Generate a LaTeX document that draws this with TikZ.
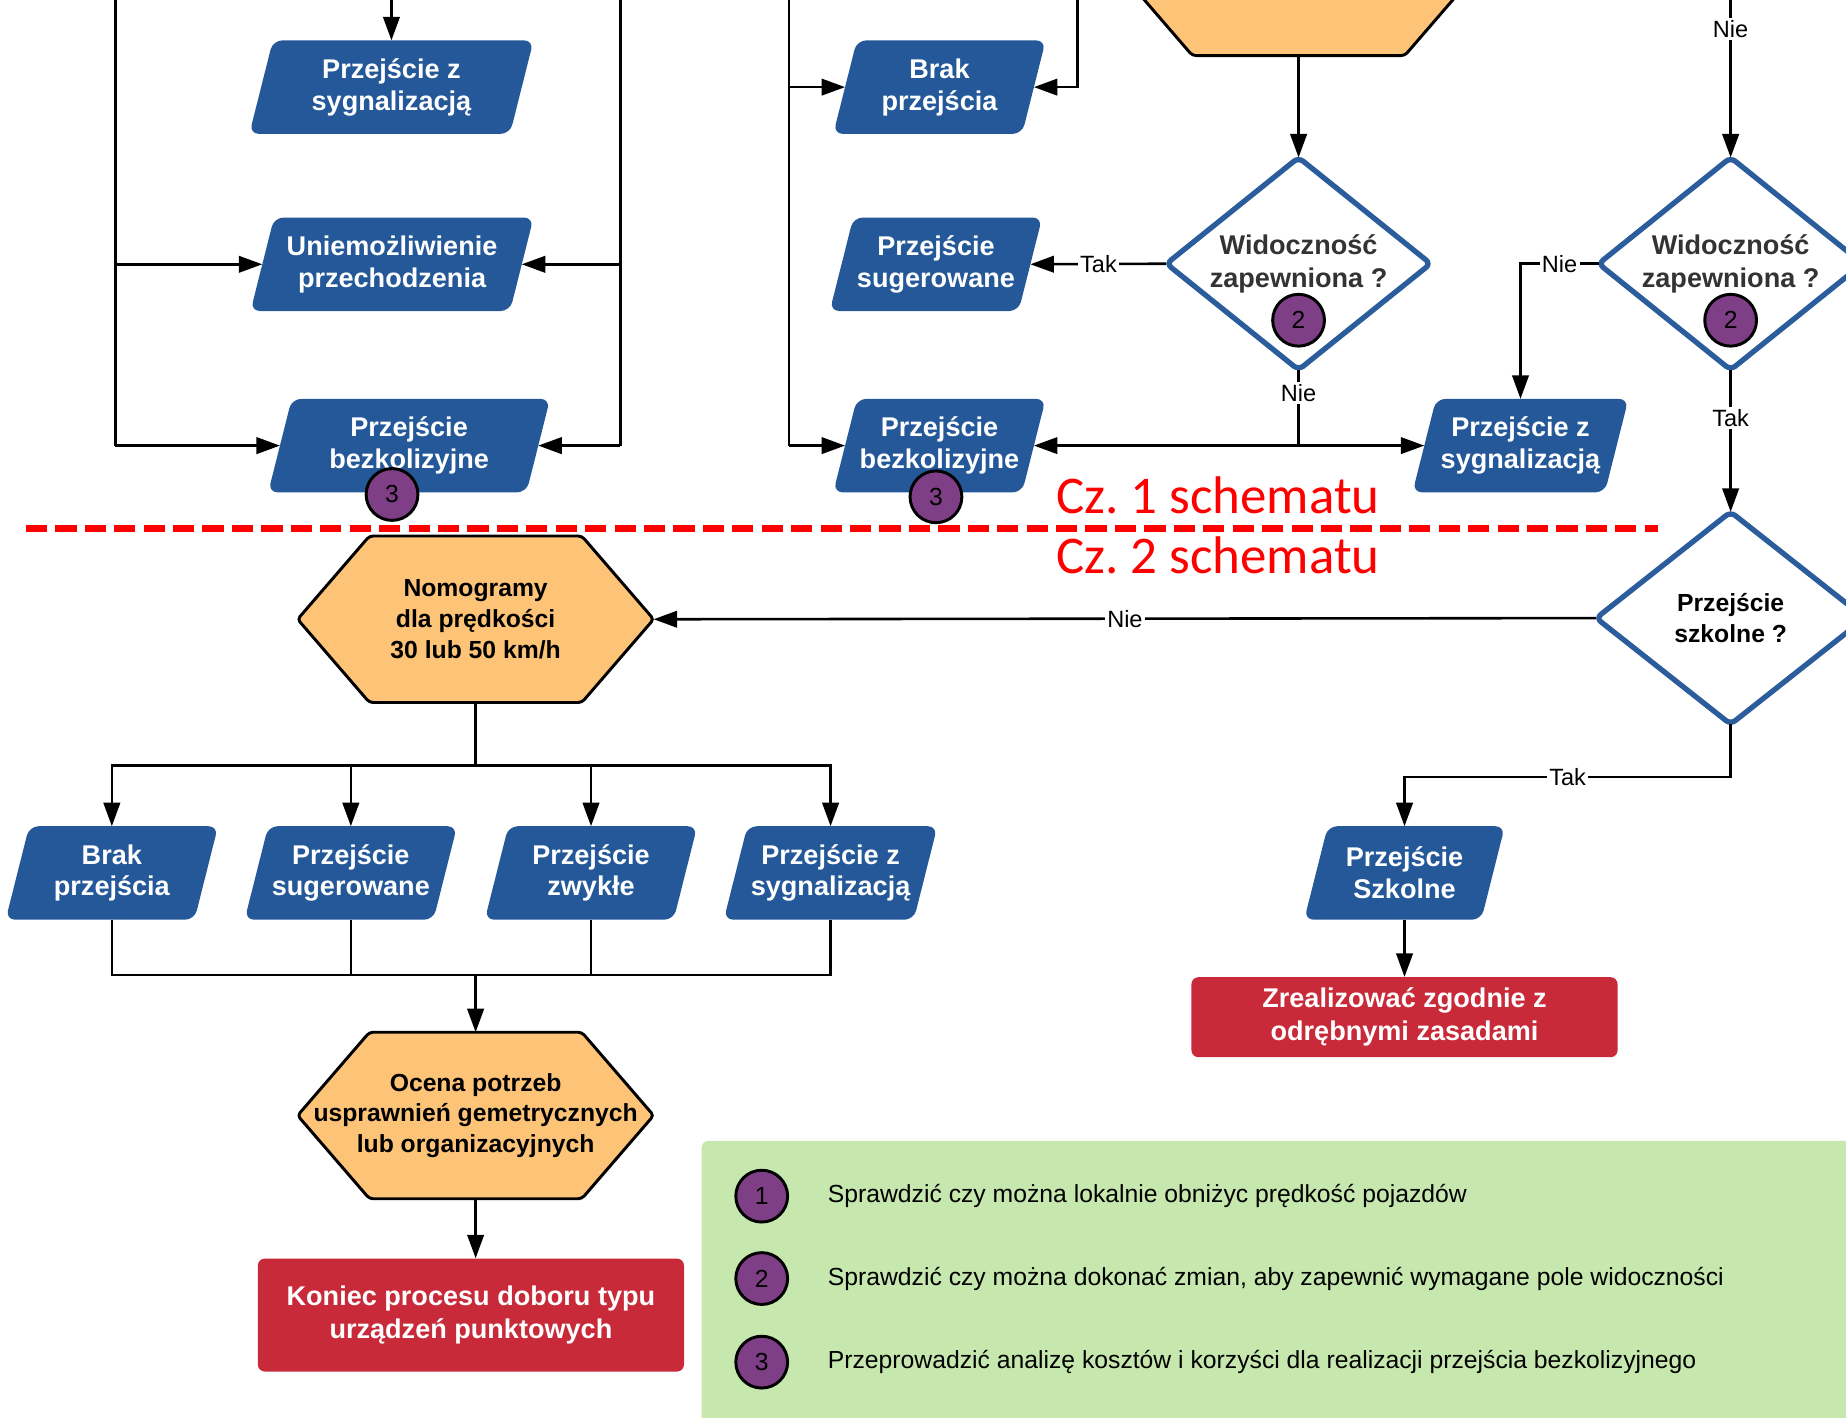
\documentclass[tikz,border=0pt]{standalone}
\usepackage{fontspec}
\setmainfont{Liberation Sans}
\newfontfamily\calfont{Carlito}
\usetikzlibrary{arrows.meta,calc,backgrounds}
\definecolor{pblue}{HTML}{245899}
\definecolor{dblue}{HTML}{2B5D9C}
\definecolor{orng}{HTML}{FDC377}
\definecolor{rbox}{HTML}{C92A3A}
\definecolor{grn}{HTML}{C6E7AD}
\definecolor{purp}{HTML}{7F3F87}
\definecolor{dgray}{HTML}{333333}
\newcommand\parabox[1]{\fill[pblue, rounded corners=8pt] ($(#1.south west)+(-10,0)$) -- ($(#1.north west)+(10,0)$) -- ($(#1.north east)+(10,0)$) -- ($(#1.south east)+(-10,0)$) -- cycle;}
\newcommand\hexbox[1]{\filldraw[fill=orng, draw=black, line width=2.5pt, rounded corners=3pt] (#1.west) -- ($(#1.north west)+(61,0)$) -- ($(#1.north east)+(-61,0)$) -- (#1.east) -- ($(#1.south east)+(-61,0)$) -- ($(#1.south west)+(61,0)$) -- cycle;}
\newcommand\diabox[1]{\filldraw[fill=white, draw=dblue, line width=4.5pt, rounded corners=5pt] (#1.north) -- (#1.east) -- (#1.south) -- (#1.west) -- cycle;}
\begin{document}
\begin{tikzpicture}[x=1pt,y=-1pt,
  ptext/.style={text=white, font=\bfseries\fontsize{23}{27}\selectfont, align=center, inner sep=0pt, minimum height=79pt},
  htext/.style={text=black, font=\bfseries\fontsize{21}{26}\selectfont, align=center, inner sep=0pt, minimum width=302pt, minimum height=141pt},
  dtext/.style={font=\bfseries\fontsize{23}{28}\selectfont, align=center, inner sep=0pt, minimum width=224pt, minimum height=180pt},
  rtext/.style={fill=rbox, rounded corners=6pt, text=white, font=\bfseries\fontsize{23}{28}\selectfont, align=center, inner sep=0pt, minimum width=362pt},
  lbl/.style={fill=white, inner sep=2pt, font=\fontsize{20}{24}\selectfont},
  conn/.style={line width=2.2pt},
  arr/.style={conn, -{Triangle[length=20pt,width=14pt]}},
  num/.style={circle, draw=black, line width=2.5pt, fill=purp, minimum size=44pt, inner sep=0pt, font=\fontsize{21}{25}\selectfont},
  legt/.style={anchor=west, inner sep=0pt, font=\fontsize{21}{25}\selectfont},
  czt/.style={text=red, font=\calfont\fontsize{45}{50}\selectfont, inner sep=0pt, anchor=base west}
]
\useasboundingbox (0,0) rectangle (1568,1204);

% legend background
\fill[grn, rounded corners=6pt] (596,969) rectangle (1640,1280);

% parallelogram nodes
\node[ptext, minimum width=221pt] (p1) at (332.5,74) {Przejście z\\sygnalizacją};
\node[ptext, minimum width=220pt] (p2) at (333,224.5) {Uniemożliwienie\\przechodzenia};
\node[ptext, minimum width=219pt] (p3) at (347.5,378.5) {Przejście\\bezkolizyjne};
\node[ptext, minimum width=160pt] (p4) at (798,74) {Brak\\przejścia};
\node[ptext, minimum width=160pt] (p5) at (795,224.5) {Przejście\\sugerowane};
\node[ptext, minimum width=160pt] (p6) at (798,378.5) {Przejście\\bezkolizyjne};
\node[ptext, minimum width=163pt] (p7) at (1291.5,378.5) {Przejście z\\sygnalizacją};
\node[ptext, minimum width=160pt] (p8) at (95,741.5) {Brak\\przejścia};
\node[ptext, minimum width=160pt] (p9) at (298,741.5) {Przejście\\sugerowane};
\node[ptext, minimum width=160pt] (p10) at (502,741.5) {Przejście\\zwykłe};
\node[ptext, minimum width=161pt] (p11) at (705.5,741.5) {Przejście z\\sygnalizacją};
\node[ptext, minimum width=150pt] (p12) at (1193,741.5) {Przejście\\Szkolne};

% hexagons
\node[htext] (h0) at (1103,-23.5) {};
\node[htext] (h1) at (404,526) {Nomogramy\\dla prędkości\\30 lub 50 km/h};
\node[htext] (h2) at (404,947.5) {Ocena potrzeb\\usprawnień gemetrycznych\\lub organizacyjnych};

% diamonds
\node[dtext, text=dgray] (d1) at (1103,224) {Widoczność\\zapewniona ?};
\node[dtext, text=dgray] (d2) at (1470,224) {Widoczność\\zapewniona ?};
\node[dtext, text=black, minimum width=228pt, font=\bfseries\fontsize{21}{26}\selectfont] (d3) at (1470,525) {Przejście\\szkolne ?};

% red boxes
\node[rtext, minimum height=96pt] (r1) at (400,1117) {Koniec procesu doboru typu\\urządzeń punktowych};
\node[rtext, minimum height=68pt] (r2) at (1193,864) {Zrealizować zgodnie z\\odrębnymi zasadami};

\begin{scope}[on background layer]
  \foreach \n in {p1,p2,p3,p4,p5,p6,p7,p8,p9,p10,p11,p12} {\parabox{\n}}
  \hexbox{h0}\hexbox{h1}\hexbox{h2}
  \diabox{d1}\diabox{d2}\diabox{d3}
\end{scope}

% free ends and junctions
\coordinate (t1) at (98,-5);
\coordinate (m1) at (98,224.5);
\coordinate (b1) at (98,378.5);
\coordinate (t2) at (527,-5);
\coordinate (m2) at (527,224.5);
\coordinate (b2) at (527,378.5);
\coordinate (t3) at (332.5,-5);
\coordinate (t4) at (670,-5);
\coordinate (m4) at (670,74);
\coordinate (b4) at (670,378.5);
\coordinate (t5) at (915,-5);
\coordinate (t6) at (1470,-5);
\coordinate (j1) at (1103,378.5);
\coordinate (j3) at (1470,660);
\coordinate (j5) at (404,650);
\coordinate (j8) at (404,828);

% connectors top-left
\draw[conn] (t1) -- (b1);
\draw[arr] (m1) -- (p2.west);
\draw[arr] (b1) -- (p3.west);
\draw[conn] (t2) -- (b2);
\draw[arr] (m2) -- (p2.east);
\draw[arr] (b2) -- (p3.east);
\draw[arr] (t3) -- (p1.north);
% middle
\draw[conn] (t4) -- (b4);
\draw[arr] (m4) -- (p4.west);
\draw[arr] (b4) -- (p6.west);
\draw[arr] (t5) |- (p4.east);
\draw[arr] (h0.south) -- (d1.north);
\draw[arr] (d1.west) -- node[lbl]{Tak} (p5.east);
\draw[conn] (d1.south) -- node[lbl,pos=0.3]{Nie} (j1);
\draw[arr] (j1) -- (p6.east);
\draw[arr] (j1) -- (p7.west);
% right
\draw[arr] (t6) -- node[lbl,pos=0.216]{Nie} (d2.north);
\draw[arr] (d2.west) -| node[lbl,pos=0.25]{Nie} (p7.north);
\draw[arr] (d2.south) -- node[lbl,pos=0.34]{Tak} (d3.north);
\draw[arr] (d3.west) -- node[lbl]{Nie} (h1.east);
\draw[arr] (d3.south) -- (j3) -| node[lbl,pos=0.25]{Tak} (p12.north);
\draw[arr] (p12.south) -- (r2.north);
% bottom-left
\draw[conn] (h1.south) -- (j5);
\draw[arr] (j5) -| (p8.north);
\draw[arr] (j5) -| (p9.north);
\draw[arr] (j5) -| (p10.north);
\draw[arr] (j5) -| (p11.north);
\draw[conn] (p8.south) |- (j8);
\draw[conn] (p9.south) |- (j8);
\draw[conn] (p10.south) |- (j8);
\draw[conn] (p11.south) |- (j8);
\draw[arr] (j8) -- (h2.north);
\draw[arr] (h2.south) -- (h2.south |- r1.north);

% numbered circles
\node[num] (c1) at (1103,272) {2};
\node[num] (c2) at (1470,272) {2};
\node[num] (c3) at (333,420) {3};
\node[num] (c4) at (795,422) {3};

% dashed divider
\coordinate (dl) at (22,449);
\coordinate (dr) at (1408,449);
\draw[red, line width=6pt, dash pattern=on 18pt off 7pt] (dl) -- (dr);
\node[czt] (cz1) at (897,436) {Cz.\ 1 schematu};
\node[czt] (cz2) at (897,487) {Cz.\ 2 schematu};

% legend
\node[num] (l1) at (647,1016) {1};
\node[num] (l2) at (647,1086) {2};
\node[num] (l3) at (647,1157) {3};
\node[legt] (g1) at (703,1016) {Sprawdzić czy można lokalnie obniżyc prędkość pojazdów};
\node[legt] (g2) at (703,1086) {Sprawdzić czy można dokonać zmian, aby zapewnić wymagane pole widoczności};
\node[legt] (g3) at (703,1157) {Przeprowadzić analizę kosztów i korzyści dla realizacji przejścia bezkolizyjnego};
\end{tikzpicture}
\end{document}
